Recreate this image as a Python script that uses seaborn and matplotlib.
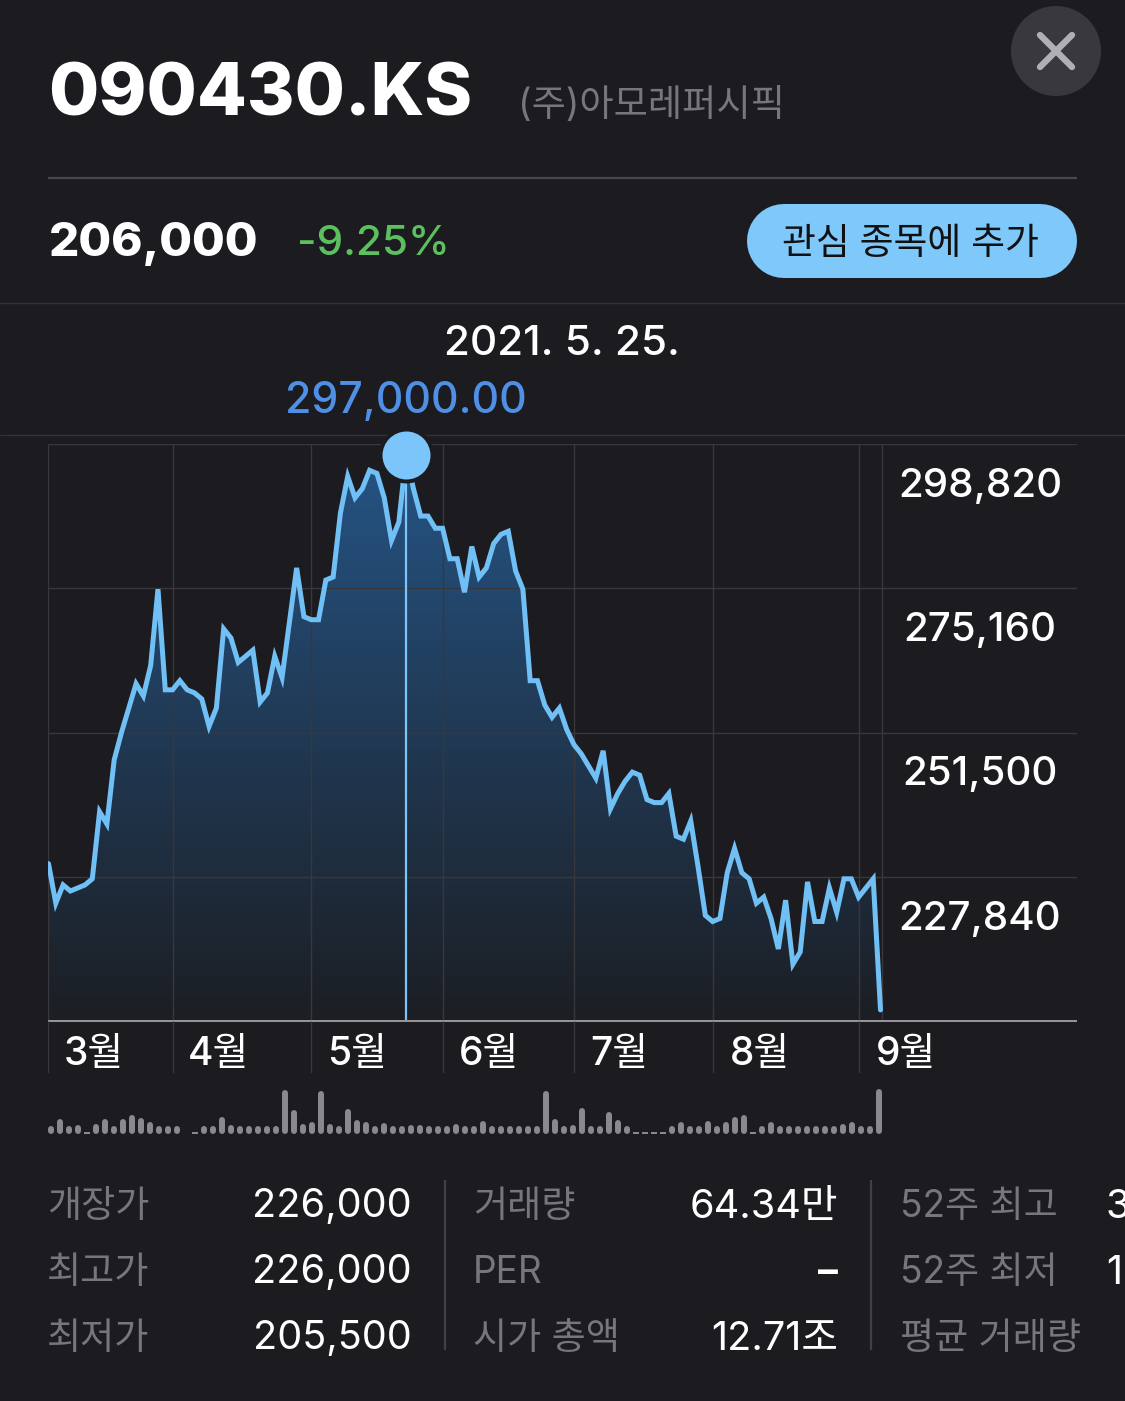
"""
090430.KS 주가 차트 (iOS 주식 앱 화면) 재현
"""

import matplotlib

matplotlib.use("Agg")
import matplotlib.pyplot as plt
import numpy as np
import seaborn as sns
from matplotlib.patches import Circle

W, H = 1125, 1401

BG = "#1c1c20"
BLUE = "#70c0f6"
GRID = "#38383c"
GRAY = "#8a8a8e"
LABEL_GRAY = "#77777b"

PRICES = [
    230000, 223500, 226500, 225500, 226000, 226500, 227500, 238500, 236500, 247000,
    251500, 255500, 259500, 257500, 262500, 275000, 258500, 258500, 260000, 258500,
    258000, 257000, 252500, 255500, 268500, 267000, 263000, 264000, 265000, 256500,
    258000, 264000, 260500, 269500, 278500, 270500, 270000, 270000, 276500, 277000,
    287500, 293500, 290000, 291500, 294500, 294000, 290000, 283000, 286000, 297000,
    291500, 287000, 287000, 285000, 285000, 280000, 280000, 274500, 282000, 277000,
    278500, 282500, 284000, 284500, 278000, 275000, 260000, 260000, 256000, 254000,
    255500, 252000, 249500, 248000, 246000, 244000, 248500, 239000, 241500, 243500,
    245000, 244500, 240500, 240000, 240000, 241500, 234500, 234000, 237000, 229500,
    221500, 220500, 221000, 228500, 232500, 228500, 227500, 223500, 224500, 221000,
    216000, 224000, 213500, 215500, 227000, 220500, 220500, 226000, 222000, 227500,
    227500, 224500, 226000, 227500, 206000,
]
# 거래량 (만주), 막대 높이에서 읽은 값
VOLUMES = [
    9.7, 21.9, 7.3, 12.2, 1.5, 13.6, 21, 9.7, 21, 27.3,
    22.9, 17.1, 8.8, 8.8, 9.7, 0, 1.5, 7.3, 8.8, 24.4,
    12.2, 8.3, 8.3, 8.3, 8.3, 8.8, 63.4, 34.1, 14.6, 17.1,
    60.9, 14.6, 4.9, 35.6, 20.5, 17.1, 10.7, 15.6, 7.3, 8.8,
    12.2, 12.2, 8.8, 8.8, 11.2, 14.6, 2.4, 10.7,
    18, 5.8, 5.8, 5.8, 5.8, 5.8, 7.3, 60.9, 21.9, 10.7,
    12.2, 37.5, 6.3, 5.8, 31.7, 20.5, 8.3, 1.5, 1.5, 1.5,
    1.5, 5.8, 17.1, 7.3, 5.8, 18, 11.7, 17.1, 24.4, 26.8,
    1.5, 8.3, 17.1, 9.7, 5.8, 9.7, 4.9, 4.9, 8.3, 8.3,
    14.6, 17.1, 9.7, 3.9, 64.3,
]
PRICE_GRID = [298820, 275160, 251500, 227840, 204180]
PRICE_LABELS = ["298,820", "275,160", "251,500", "227,840"]
MONTH_DAYS = [17, 36, 54, 72, 91, 111]
MONTHS = ["3월", "4월", "5월", "6월", "7월", "8월", "9월"]
STATS = [
    [("개장가", "226,000"), ("최고가", "226,000"), ("최저가", "205,500")],
    [("거래량", "64.34만"), ("PER", "–"), ("시가 총액", "12.71조")],
    [("52주 최고", "3"), ("52주 최저", "1"), ("평균 거래량", "")],
]

sns.set_theme(style="dark")
plt.rcParams["font.family"] = ["Inter", "Noto Sans CJK KR", "DejaVu Sans"]


def add_px_axes(fig, left, top, right, bottom):
    ax = fig.add_axes([left / W, 1 - bottom / H, (right - left) / W, (bottom - top) / H])
    ax.set_facecolor("none")
    ax.axis("off")
    return ax


def put(fig, x, y, s, size, color="white", ha="left", weight="normal", **kw):
    # CJK 폴백 때문에 글자 중심이 약간 위로 뜸 -> 4px 보정
    fig.text(x / W, 1 - (y + 4) / H, s, fontsize=size, color=color, ha=ha, va="center",
             fontweight=weight, **kw)


fig = plt.figure(figsize=(W / 100, H / 100), dpi=100, facecolor=BG)

# 화면 전체를 픽셀 좌표로 쓰는 배경 축
bg = add_px_axes(fig, 0, 0, W, H)
bg.set_xlim(0, W)
bg.set_ylim(H, 0)
bg.hlines(178, 48, 1077, color="#48484c", lw=1.6)
bg.hlines([303, 435], 0, W, color="#333337", lw=1)
bg.vlines([445, 871], 1180, 1350, color="#414145", lw=1.6)
bg.add_patch(Circle((1056, 51), 45, color="#39393d", lw=0))
bg.plot([1040, 1072], [35, 67], color="#b0b0b4", lw=4.6, solid_capstyle="round")
bg.plot([1040, 1072], [67, 35], color="#b0b0b4", lw=4.6, solid_capstyle="round")
bg.plot([784, 1040], [241, 241], color="#7ec8fa", lw=53.3, solid_capstyle="round")

# 가격 차트
days = np.arange(len(PRICES))
px_per_day = (881 - 49) / (len(PRICES) - 1)
xlim = (-1 / px_per_day, len(PRICES) - 1 + (1077 - 881) / px_per_day)

ax = add_px_axes(fig, 47.5, 444, 1076.5, 1021)
ax.set_xlim(xlim)
ax.set_ylim(PRICE_GRID[-1], PRICE_GRID[0])

fill = ax.fill_between(days, PRICES, PRICE_GRID[-1], color="none", lw=0)
gradient = np.linspace(0, 1, 256)[:, None]
top_rgb, bot_rgb = np.array([0x25, 0x55, 0x86]) / 255, np.array([0x1c, 0x1e, 0x23]) / 255
img = ax.imshow(top_rgb + (bot_rgb - top_rgb) * gradient[:, :, None], aspect="auto",
                extent=(*xlim, PRICE_GRID[-1], PRICE_GRID[0]), zorder=1)
img.set_clip_path(fill.get_paths()[0], transform=ax.transData)
ax.set_xlim(xlim)
ax.set_ylim(PRICE_GRID[-1], PRICE_GRID[0])

ax.hlines(PRICE_GRID[:-1], xlim[0], xlim[1], color=GRID, lw=1, zorder=2)
ax.vlines([xlim[0]] + MONTH_DAYS + [len(PRICES) - 1 + 1 / px_per_day], PRICE_GRID[-1], PRICE_GRID[0],
          color=GRID, lw=1, zorder=2)

selected = PRICES.index(max(PRICES))
ax.vlines(selected, PRICE_GRID[-1], PRICES[selected], color="#7cc5fa", lw=1.6, zorder=3)
sns.lineplot(x=days, y=PRICES, ax=ax, color=BLUE, linewidth=3.6, zorder=4, errorbar=None,
             estimator=None, solid_joinstyle="miter")
ax.axis("off")
ax.scatter([selected], [PRICES[selected]], s=1625, color=BG, lw=0, zorder=5, clip_on=False)
ax.scatter([selected], [PRICES[selected]], s=1194, color="#7cc5fa", lw=0, zorder=6, clip_on=False)
ax.hlines(PRICE_GRID[-1], xlim[0], xlim[1], color="#98989c", lw=1.4, zorder=7, clip_on=False)

label_x = (980 - 47.5) / (1076.5 - 47.5)
for label, price in zip(PRICE_LABELS, PRICE_GRID):
    ax.annotate(label, (label_x, price), xycoords=("axes fraction", "data"), xytext=(0, -30.6),
                textcoords="offset points", ha="center", va="center", color="white",
                fontsize=29, fontweight="medium")

# 월 눈금 영역
strip = add_px_axes(fig, 47.5, 1021, 1076.5, 1073)
strip.set_xlim(xlim)
strip.set_ylim(0, 1)
strip.vlines([xlim[0]] + MONTH_DAYS, 0, 1, color=GRID, lw=1)
for x_px, month in zip([64, 188, 327, 459, 590, 730, 876], MONTHS):
    put(fig, x_px, 1050, month, 28, weight="medium")

# 거래량
vol_ax = add_px_axes(fig, 48, 1085, 1077, 1134)
vol_idx = np.arange(len(VOLUMES))
vol_px = (879 - 51) / (len(VOLUMES) - 1)
vol_ax.set_xlim(-3 / vol_px, len(VOLUMES) - 1 + (1077 - 879) / vol_px)
vol_ax.set_ylim(0, 70)
vols = np.array(VOLUMES)
tall = vols > 2
vol_ax.vlines(vol_idx[tall], 4.3, np.maximum(vols[tall] - 4.3, 6.5), color=GRAY, lw=4.3,
              capstyle="round")
flat = (vols > 0) & ~tall
vol_ax.vlines(vol_idx[flat], 0, vols[flat] + 1.5, color=GRAY, lw=4.3, capstyle="butt")

# 머리글
put(fig, 48, 92, "090430.KS", 52.4, weight="heavy")
put(fig, 518, 102, "(주)아모레퍼시픽", 26.8, color=LABEL_GRAY)
put(fig, 49, 240, "206,000", 34.2, weight="heavy")
put(fig, 297, 240, "-9.25%", 30.4, color="#5bc15f", weight="medium")
put(fig, 910, 240, "관심 종목에 추가", 26.5, color="#111114", ha="center", weight="medium")
put(fig, 562, 340, "2021. 5. 25.", 30.4, ha="center", weight="medium")
put(fig, 406, 398, "297,000.00", 30.8, color="#4f8fe6", ha="center", weight="medium")

# 하단 통계
rows = [1203, 1269, 1335]
for col, (x_label, x_value) in zip(STATS, [(47, 412), (473, 838), (900, None)]):
    for (label, value), y in zip(col, rows):
        put(fig, x_label, y, label, 26.7, color=LABEL_GRAY)
        if x_value is not None:
            put(fig, x_value, y, value, 28.6, ha="right", weight="bold" if value == "–" else "normal")
put(fig, 1106, 1203, STATS[2][0][1], 28.6)
put(fig, 1106, 1269, STATS[2][1][1], 28.6)

fig.savefig("out.png", dpi=100, facecolor=BG)
